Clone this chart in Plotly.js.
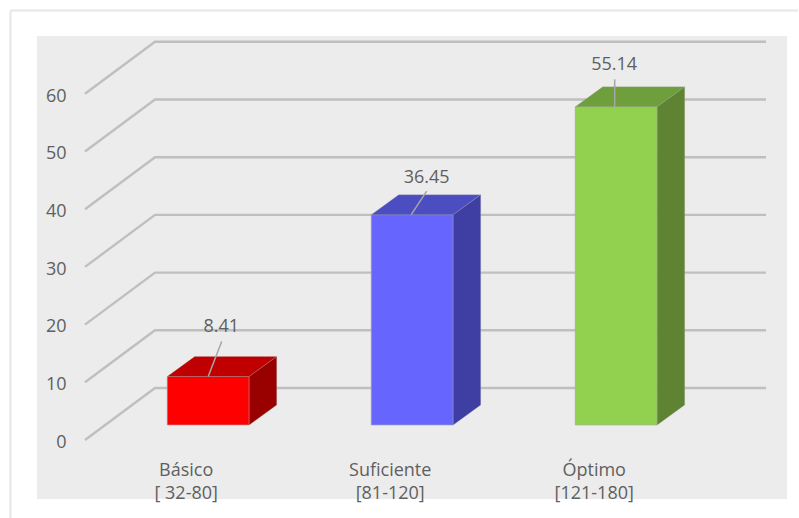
<!DOCTYPE html>
<html><head><meta charset="utf-8">
<script src="https://cdn.plot.ly/plotly-3.0.1.min.js"></script>
<style>html,body{margin:0;padding:0;background:#fff;overflow:hidden}</style>
</head><body><div id="chart" style="width:799px;height:518px"></div>
<script>
// data
const categories = ["Básico<br>[ 32-80]", "Suficiente<br>[81-120]", "Óptimo<br>[121-180]"];
const categoryPos = [0, 1, 2];
const values = [8.41, 36.45, 55.14];
const valueLabels = ["8.41", "36.45", "55.14"];
const tickValues = [0, 10, 20, 30, 40, 50, 60];
const tickLabels = ["0", "10", "20", "30", "40", "50", "60"];
// style
const frontColors = ["#ff0000", "#6666ff", "#92d050"];
const topColors = ["#c00000", "#4d4dc2", "#6f9e3d"];
const sideColors = ["#990000", "#3f3fa3", "#5e8433"];
const W = 799, H = 518, L = 37, R = 787, T = 36, B = 499;
const PXX = 204, PXY = 5.77;           // pixels per axis unit
const X0 = 208.2, Y0 = 440;            // pixel position of category 0 / value 0
const dx = p => p / PXX, dy = p => p / PXY;
// depth geometry, in axis units
const wallX0 = dx(85 - X0), wallDX = dx(70), wallDY = dy(52), wallX1 = dx(766 - X0);
const barBase = dy(15), barW = dx(82), barDX = dx(27.5), barDY = dy(20);
const catLabelShift = dx(-22), tickLabelShift = dy(-1.5);
// leader label offsets relative to bar's front top edge (axis units)
const leadStartX = [0, dx(-1), dx(-1.5)];
const leadEndX = [dx(13.5), dx(14.5), dx(-1.5)];
const leadEndY = [dy(35), dy(23.5), dy(27.5)];
const labelX = [dx(13), dx(14.5), dx(-2)];
const labelY = [dy(48.5), dy(36.5), dy(41.5)];

const gridColor = "#bfbfbf";
const textColor = "#5f5f5f";
const fontName = "Open Sans";
const shapes = tickValues.map(v => ({
  type: "path", layer: "below", xref: "x", yref: "y",
  path: `M${wallX0},${v} L${wallX0 + wallDX},${v + wallDY} L${wallX1},${v + wallDY}`,
  line: {color: gridColor, width: 2.4}
}));
const bdr = {color: "#e6e6e6", width: 2};
const fx = p => (p - L) / (R - L), fy = p => (B - p) / (B - T);
shapes.push({type: "line", xref: "paper", yref: "paper", layer: "below",
  x0: fx(10.5), x1: fx(798), y0: fy(10.5), y1: fy(10.5), line: bdr});
shapes.push({type: "line", xref: "paper", yref: "paper", layer: "below",
  x0: fx(10.5), x1: fx(10.5), y0: fy(10.5), y1: fy(518), line: bdr});

const traces = [{
  type: "bar", x: categoryPos, y: values, base: barBase, width: barW,
  marker: {color: frontColors, line: {color: "rgba(166,166,166,0.6)", width: 1}},
  hoverinfo: "skip"
}];
categoryPos.forEach((c, i) => {
  const l = c - barW / 2, r = c + barW / 2, t = values[i] + barBase, b = barBase;
  traces.push({type: "scatter", mode: "lines", fill: "toself", fillcolor: topColors[i],
    x: [l, r, r + barDX, l + barDX, l], y: [t, t, t + barDY, t + barDY, t],
    line: {color: "rgba(166,166,166,0.5)", width: 0.5}, hoverinfo: "skip"});
  traces.push({type: "scatter", mode: "lines", fill: "toself", fillcolor: sideColors[i],
    x: [r, r + barDX, r + barDX, r, r], y: [t, t + barDY, b + barDY, b, t],
    line: {color: "rgba(166,166,166,0.5)", width: 0.5}, hoverinfo: "skip"});
  traces.push({type: "scatter", mode: "lines",
    x: [c + leadStartX[i], c + leadEndX[i]], y: [t, t + leadEndY[i]],
    line: {color: "#a6a6a6", width: 1.5}, hoverinfo: "skip"});
});
traces.push({type: "scatter", mode: "text",
  x: categoryPos.map((c, i) => c + labelX[i]),
  y: values.map((v, i) => v + barBase + labelY[i]),
  text: valueLabels, textposition: "middle center",
  textfont: {family: fontName, size: 18, color: textColor}, hoverinfo: "skip"});

const layout = {
  width: W, height: H, showlegend: false, autosize: false,
  paper_bgcolor: "#ffffff", plot_bgcolor: "#ececec",
  margin: {l: L, r: W - R, t: T, b: H - B, pad: 0},
  shapes,
  xaxis: {type: "linear", range: [dx(L - X0), dx(R - X0)], tickmode: "array",
    tickvals: categoryPos.map(c => c + catLabelShift), ticktext: categories,
    showgrid: false, zeroline: false,
    showline: false, ticks: "", anchor: "free", position: fy(457),
    tickfont: {family: fontName, size: 18, color: textColor}},
  yaxis: {range: [dy(Y0 - B), dy(Y0 - T)], tickmode: "array",
    tickvals: tickValues.map(v => v + tickLabelShift), ticktext: tickLabels,
    showgrid: false, zeroline: false, showline: false, ticks: "", anchor: "free",
    position: fx(66.5), tickfont: {family: fontName, size: 18, color: textColor}}
};
Plotly.newPlot("chart", traces, layout, {staticPlot: true, displayModeBar: false});
</script></body></html>
